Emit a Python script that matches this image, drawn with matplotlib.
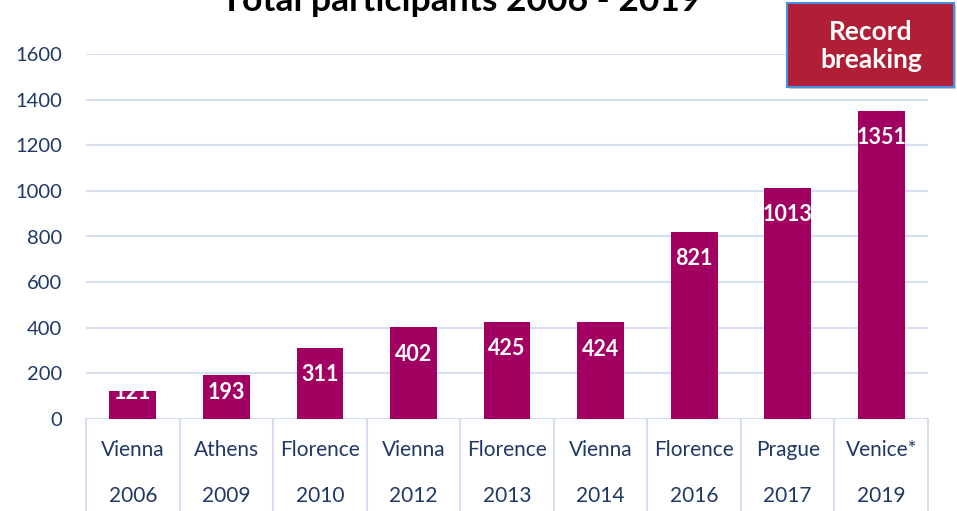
import matplotlib.pyplot as plt
from matplotlib import rcParams
from matplotlib.patches import FancyBboxPatch
import matplotlib.transforms as mtransforms

rcParams['font.family'] = ['Lato', 'DejaVu Sans']

cities = ['Vienna', 'Athens', 'Florence', 'Vienna', 'Florence', 'Vienna', 'Florence', 'Prague', 'Venice*']
years = ['2006', '2009', '2010', '2012', '2013', '2014', '2016', '2017', '2019']
participants = [121, 193, 311, 402, 425, 424, 821, 1013, 1351]

bar_color = '#A10062'
grid_color = '#D6DFF2'
text_color = '#1F3864'

fig = plt.figure(figsize=(9.57, 5.11), dpi=100)
ax = fig.add_axes([86 / 957, 1 - 419 / 511, 842 / 957, 365 / 511])

x = list(range(len(participants)))
ax.bar(x, participants, width=0.5, color=bar_color, zorder=3)

ax.set_xlim(-0.5, len(participants) - 0.5)
ax.set_ylim(0, 1600)
ax.set_yticks(range(0, 1601, 200))
ax.tick_params(axis='y', length=0, pad=17, labelsize=14.5, labelcolor=text_color)
ax.set_xticks([])
ax.grid(axis='y', color=grid_color, linewidth=1.5, zorder=0)
for s in ax.spines.values():
    s.set_visible(False)
ax.axhline(0, color=grid_color, linewidth=1.5, zorder=2)

# value labels inside bars
for xi, v in zip(x, participants):
    ypos = max(v - 118, 118)
    ax.text(xi, ypos, str(v), ha='center', va='center', color='white',
            fontsize=15.5, fontweight='bold', zorder=4)

# table-like category axis
trans = mtransforms.blended_transform_factory(ax.transData, ax.transAxes)
for i in range(len(participants) + 1):
    ax.plot([i - 0.5, i - 0.5], [0, -0.3], color=grid_color, linewidth=1.5,
            transform=trans, clip_on=False)
for xi, c, yr in zip(x, cities, years):
    ax.text(xi, -0.085, c, ha='center', va='center', transform=trans,
            fontsize=15, color=text_color)
    ax.text(xi, -0.21, yr, ha='center', va='center', transform=trans,
            fontsize=15, color=text_color)

# title (cut off at top as in the original)
fig.text(461 / 957, 1 - 11 / 511, 'Total participants 2006 - 2019', ha='center',
         va='baseline', fontsize=25.5, fontweight='bold', color='black')

# "Record breaking" box
box = FancyBboxPatch((787 / 957, 1 - 87 / 511), 167 / 957, 84 / 511,
                     boxstyle='square,pad=0', transform=fig.transFigure,
                     facecolor='#B01F35', edgecolor='#4A90E2', linewidth=1.5,
                     zorder=5)
shadow = FancyBboxPatch((789 / 957, 1 - 89 / 511), 167 / 957, 84 / 511,
                        boxstyle='square,pad=0', transform=fig.transFigure,
                        facecolor='#999999', edgecolor='none', alpha=0.5,
                        zorder=4)
fig.patches.extend([shadow, box])
fig.text(871 / 957, 1 - 46 / 511, 'Record\nbreaking', ha='center', va='center',
         fontsize=19, fontweight='bold', color='white', linespacing=1.15,
         zorder=6)

fig.savefig('out.png', dpi=100)
